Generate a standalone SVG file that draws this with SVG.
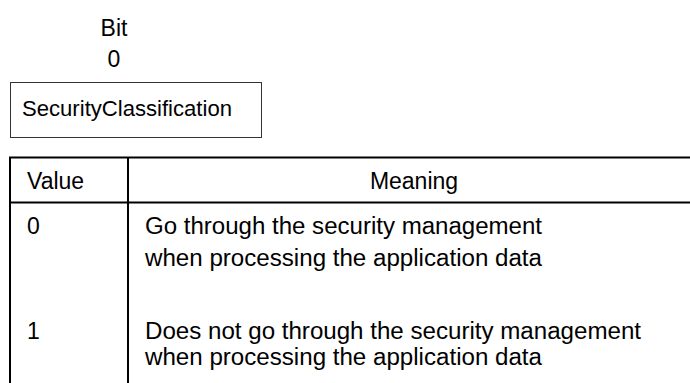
<svg xmlns="http://www.w3.org/2000/svg" width="690" height="383" viewBox="0 0 690 383">
<style>
text{font-family:"Liberation Sans",Arial,sans-serif;fill:#000;}
.t{font-size:23px;}
.r{font-size:23px;}
.s{font-size:22px;}
.ln{stroke:#000;stroke-width:2;fill:none;}
</style>
<rect width="690" height="383" fill="#fff"/>
<g id="bit-label">
<text class="t" x="114" y="36" text-anchor="middle">Bit</text>
<text class="t" x="114" y="67" text-anchor="middle">0</text>
</g>
<g id="field-box">
<rect x="10.5" y="82.5" width="251" height="55" fill="#fff" stroke="#333" stroke-width="1"/>
<text class="s" x="22" y="116" textLength="210" lengthAdjust="spacingAndGlyphs">SecurityClassification</text>
</g>
<g id="table">
<g id="table-lines">
<line class="ln" x1="9" y1="157.5" x2="690" y2="157.5"/>
<line class="ln" x1="9" y1="202.5" x2="690" y2="202.5"/>
<line class="ln" x1="10" y1="157" x2="10" y2="383"/>
<line class="ln" x1="128" y1="157" x2="128" y2="383"/>
</g>
<g id="header">
<text class="t" x="27" y="189">Value</text>
<text class="t" x="414" y="189" text-anchor="middle">Meaning</text>
</g>
<g id="row0">
<text class="r" x="27" y="234">0</text>
<text class="r" x="145" y="234" textLength="397" lengthAdjust="spacingAndGlyphs">Go through the security management</text>
<text class="r" x="145" y="266" textLength="397" lengthAdjust="spacingAndGlyphs">when processing the application data</text>
</g>
<g id="row1">
<text class="r" x="27" y="339">1</text>
<text class="r" x="145" y="339" textLength="496" lengthAdjust="spacingAndGlyphs">Does not go through the security management</text>
<text class="r" x="145" y="365" textLength="397" lengthAdjust="spacingAndGlyphs">when processing the application data</text>
</g>
</g>
</svg>
